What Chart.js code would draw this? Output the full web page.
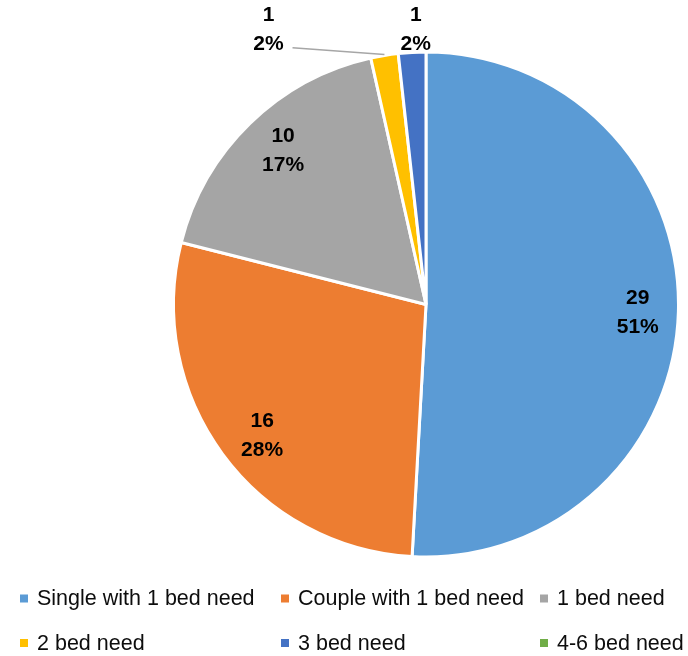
<!DOCTYPE html>
<html>
<head>
<meta charset="utf-8">
<script src="https://cdn.jsdelivr.net/npm/chart.js@4.4.1/dist/chart.umd.min.js"></script>
<style>
  html, body { margin: 0; padding: 0; background: #fff; }
  #wrap { width: 688px; height: 656px; }
</style>
</head>
<body>
<div id="wrap"><canvas id="pie" width="688" height="656"></canvas></div>
<script>
const categories = ['Single with 1 bed need', 'Couple with 1 bed need', '1 bed need',
                    '2 bed need', '3 bed need', '4-6 bed need'];
const counts = [29, 16, 10, 1, 1, 0];
const shareLabels = ['51%', '28%', '17%', '2%', '2%', '0%'];
const colours = ['#5B9BD5', '#ED7D31', '#A5A5A5', '#FFC000', '#4472C4', '#70AD47'];

const FONT = '"Liberation Sans", Arial, sans-serif';

// where each value label sits: fraction of radius, plus a nudge for the thin slices
const labelSpots = [
  { r: 0.835, dx: 1, dy: 2 }, { r: 0.83, dx: 5, dy: 7 }, { r: 0.84, dx: 5, dy: -2 },
  { r: 1.095, dx: -112, dy: -3, leader: true },
  { r: 1.095, dx: 5, dy: 1 },
  { r: 1.1 }
];

const valueLabels = {
  id: 'valueLabels',
  afterDatasetsDraw(chart) {
    const ctx = chart.ctx;
    const meta = chart.getDatasetMeta(0);
    ctx.save();
    ctx.font = 'bold 21px ' + FONT;
    ctx.fillStyle = '#000';
    ctx.textAlign = 'center';
    ctx.textBaseline = 'middle';
    meta.data.forEach((arc, i) => {
      if (!counts[i]) return;
      const p = arc.getProps(['x', 'y', 'startAngle', 'endAngle', 'outerRadius'], true);
      const mid = (p.startAngle + p.endAngle) / 2;
      const spot = labelSpots[i];
      const lx = p.x + Math.cos(mid) * p.outerRadius * spot.r + (spot.dx || 0);
      const ly = p.y + Math.sin(mid) * p.outerRadius * spot.r + (spot.dy || 0);
      if (spot.leader) {
        ctx.strokeStyle = '#A6A6A6';
        ctx.lineWidth = 1.5;
        ctx.beginPath();
        ctx.moveTo(lx + 24, ly + 19);
        ctx.lineTo(p.x + Math.cos(mid) * p.outerRadius, p.y + Math.sin(mid) * p.outerRadius - 1);
        ctx.stroke();
      }
      ctx.fillText(String(counts[i]), lx, ly - 14);
      ctx.fillText(shareLabels[i], lx, ly + 15);
    });
    ctx.restore();
  }
};

// three-column legend under the pie
const gridLegend = {
  id: 'gridLegend',
  afterDraw(chart) {
    const ctx = chart.ctx;
    const colX = [20, 281, 540];
    const rowY = [598.5, 643];
    ctx.save();
    ctx.font = '21.5px ' + FONT;
    ctx.textBaseline = 'middle';
    ctx.textAlign = 'left';
    categories.forEach((name, i) => {
      const x = colX[i % 3];
      const y = rowY[Math.floor(i / 3)];
      ctx.fillStyle = colours[i];
      ctx.fillRect(x, y - 4, 8, 8);
      ctx.fillStyle = '#0d0d0d';
      ctx.fillText(name, x + 17, y + 1);
    });
    ctx.restore();
  }
};

new Chart(document.getElementById('pie'), {
  type: 'pie',
  data: {
    labels: categories,
    datasets: [{
      data: counts,
      backgroundColor: colours,
      borderColor: '#fff',
      borderWidth: 3
    }]
  },
  options: {
    responsive: false,
    animation: false,
    layout: { padding: { left: 172, right: 8, top: 50, bottom: 97 } },
    plugins: {
      legend: { display: false },
      tooltip: { enabled: false }
    }
  },
  plugins: [valueLabels, gridLegend]
});
</script>
</body>
</html>
